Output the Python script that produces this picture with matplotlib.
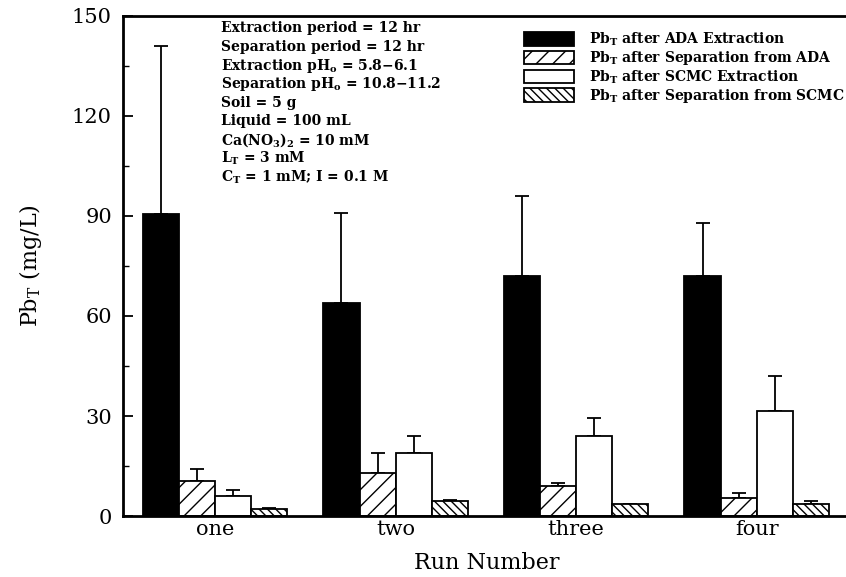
import numpy as np
import matplotlib.pyplot as plt

# datos (mg/L)
corridas = ['one', 'two', 'three', 'four']
ada_ext = [90.5, 64, 72, 72]
ada_ext_err = [50.5, 27, 24, 16]
ada_sep = [10.5, 13, 9, 5.5]
ada_sep_err = [3.5, 6, 1, 1.5]
scmc_ext = [6, 19, 24, 31.5]
scmc_ext_err = [1.8, 5, 5.5, 10.5]
scmc_sep = [2, 4.5, 3.5, 3.5]
scmc_sep_err = [0.3, 0.4, 0.2, 1.0]

etiquetas = ['Pb$_\\mathbf{T}$ after ADA Extraction',
             'Pb$_\\mathbf{T}$ after Separation from ADA',
             'Pb$_\\mathbf{T}$ after SCMC Extraction',
             'Pb$_\\mathbf{T}$ after Separation from SCMC']

condiciones = ['Extraction period = 12 hr',
               'Separation period = 12 hr',
               'Extraction pH$_\\mathbf{o}$ = 5.8$\\mathbf{-}$6.1',
               'Separation pH$_\\mathbf{o}$ = 10.8$\\mathbf{-}$11.2',
               'Soil = 5 g',
               'Liquid = 100 mL',
               'Ca(NO$_\\mathbf{3}$)$_\\mathbf{2}$ = 10 mM',
               'L$_\\mathbf{T}$ = 3 mM',
               'C$_\\mathbf{T}$ = 1 mM; I = 0.1 M']

plt.rcParams['font.family'] = 'DejaVu Serif'
plt.rcParams['mathtext.fontset'] = 'dejavuserif'
plt.rcParams['hatch.linewidth'] = 1.0

fig = plt.figure(figsize=(8.46, 5.77), dpi=100)
ax = fig.add_axes([0.1454, 0.1057, 0.86, 0.8666])

x = np.arange(len(corridas))
ancho = 0.2
series = [(ada_ext, ada_ext_err, 'black', ''),
          (ada_sep, ada_sep_err, 'white', '//'),
          (scmc_ext, scmc_ext_err, 'white', ''),
          (scmc_sep, scmc_sep_err, 'white', '\\\\\\\\')]

for i, (vals, errs, color, hatch) in enumerate(series):
    pos = x + (i - 1.5) * ancho
    ax.bar(pos, vals, ancho, color=color, edgecolor='black', hatch=hatch,
           linewidth=1.3, label=etiquetas[i], zorder=2)
    ax.errorbar(pos, vals, yerr=[np.zeros(len(vals)), errs], fmt='none',
                ecolor='black', elinewidth=1.3, capsize=5, capthick=1.3, zorder=1)

ax.set_xlim(-0.51, 3.52)
ax.set_ylim(0, 150)
ax.set_yticks([0, 30, 60, 90, 120, 150])
ax.set_yticks(np.arange(15, 150, 30), minor=True)
ax.set_xticks(x)
ax.set_xticklabels(corridas)
ax.tick_params(axis='y', direction='in', length=7, width=1.3, labelsize=15, pad=8)
ax.tick_params(axis='y', which='minor', direction='in', length=4, width=1.0)
ax.tick_params(axis='x', length=0, labelsize=15, pad=3)
ax.spines['right'].set_visible(False)
for s in ['left', 'bottom', 'top']:
    ax.spines[s].set_linewidth(2)

ax.set_xlabel('Run Number', fontsize=16, labelpad=9)
ax.set_ylabel('Pb$_\\mathrm{T}$ (mg/L)', fontsize=16, labelpad=20)

# bloque de condiciones, una linea por renglon con espaciado fijo
for k, linea in enumerate(condiciones):
    ax.text(0.134, 0.975 - k * 0.0372, linea, transform=ax.transAxes,
            fontsize=10, fontweight='bold', va='center', ha='left')

ax.legend(loc='upper right', bbox_to_anchor=(1.005, 0.99), frameon=False,
          prop={'size': 10, 'weight': 'bold'}, handlelength=3.6, handleheight=1.1,
          handletextpad=1.1, labelspacing=0.08, borderaxespad=0.3)

plt.savefig('out.png', dpi=100)
